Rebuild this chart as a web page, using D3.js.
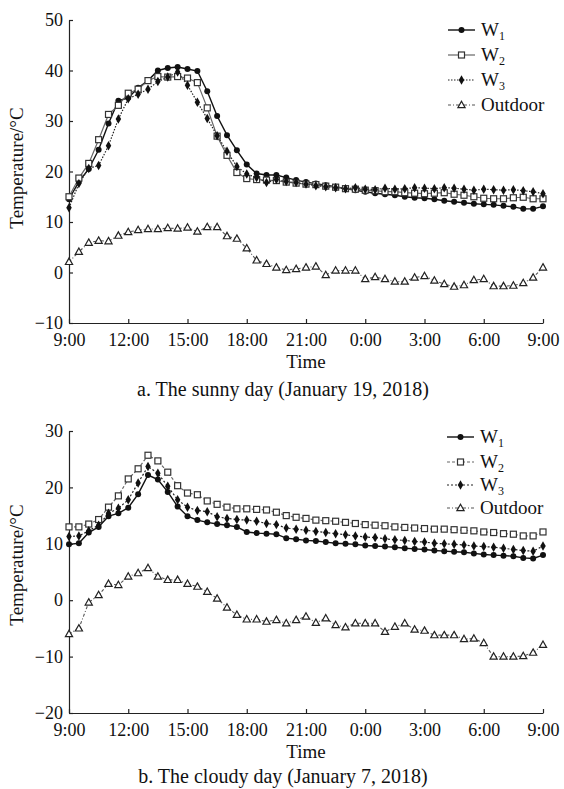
<html>
  <head>
    <style>
      body {
        margin: 0;
        background: #fff;
        font-family: "Liberation Serif", "Times New Roman", serif;
      }
      svg {
        display: block;
      }
      .axis path,
      .axis line {
        stroke: #222;
        stroke-width: 1.2;
      }
      .axis text {
        font-family: "Liberation Serif", serif;
        font-size: 18px;
        fill: #111;
      }
      .label {
        font-size: 19px;
        fill: #111;
        text-anchor: middle;
      }
      .caption {
        font-size: 20px;
        fill: #111;
        text-anchor: middle;
      }
      .legend text {
        font-size: 19px;
        fill: #111;
      }
    </style>
  </head>
  <body>
    <script src="https://d3js.org/d3.v7.min.js"></script>
    <script>
      // half-hour readings from 9:00 to 9:00 next day (49 points)
      const hours = d3.range(0, 24.5, 0.5);
      const xTicks = [0, 3, 6, 9, 12, 15, 18, 21, 24];
      const xTickLabels = ["9:00", "12:00", "15:00", "18:00", "21:00", "0:00", "3:00", "6:00", "9:00"];

      // a. sunny day
      const sunnyW1 = [14.5, 18.0, 20.5, 24.3, 29.5, 34.0, 34.6, 36.6, 38.0, 40.0, 40.5, 40.7, 40.3, 39.9, 35.9, 31.0, 27.2, 24.2, 21.4, 19.6, 19.3, 19.3, 18.8,
        18.3, 17.9, 17.6, 17.3, 17.0, 16.6, 16.3, 16.0, 15.7, 15.5, 15.3, 15.0, 14.8, 14.7, 14.5, 14.2, 14.0, 13.8, 13.6, 13.5, 13.4, 13.2, 13.0, 12.6, 12.6, 13.1];
      const sunnyW2 = [15.0, 18.7, 21.6, 26.3, 31.3, 33.1, 35.5, 36.3, 38.0, 38.8, 38.7, 38.8, 38.5, 37.6, 32.6, 27.0, 23.2, 19.8, 18.6, 18.4, 18.3, 18.2, 17.9,
        17.7, 17.5, 17.4, 17.1, 16.9, 16.6, 16.5, 16.3, 16.2, 16.0, 16.0, 15.8, 15.7, 15.6, 15.7, 15.8, 15.5, 15.3, 15.0, 14.7, 14.6, 14.6, 14.8, 14.9, 14.6, 14.6];
      const sunnyW3 = [12.8, 17.6, 20.6, 21.2, 25.1, 30.4, 34.4, 35.3, 36.3, 37.8, 38.7, 39.7, 37.1, 33.7, 30.5, 27.1, 24.0, 21.0, 19.5, 18.8, 17.8, 18.4, 18.0,
        17.8, 17.5, 17.2, 17.0, 16.8, 16.6, 16.8, 16.5, 16.4, 16.7, 16.5, 16.6, 16.8, 16.7, 16.6, 16.8, 16.7, 16.5, 16.3, 16.5, 16.4, 16.3, 16.4, 16.2, 16.0, 15.6];
      const sunnyOut = [2.1, 4.1, 5.9, 6.3, 6.2, 7.3, 8.0, 8.4, 8.6, 8.6, 8.8, 8.7, 8.9, 8.1, 9.0, 9.0, 7.2, 6.7, 4.8, 2.4, 1.7, 1.0, 0.5,
        0.7, 1.0, 1.2, -0.5, 0.4, 0.4, 0.4, -1.3, -0.9, -1.3, -1.8, -1.8, -1.0, -0.7, -1.6, -2.3, -2.8, -2.5, -1.5, -1.3, -2.7, -2.7, -2.6, -2.1, -1.0, 1.0];
      const sunnyYTicks = [-10, 0, 10, 20, 30, 40, 50];

      // b. cloudy day
      const cloudyW1 = [9.9, 10.1, 12.0, 13.0, 14.9, 15.4, 16.4, 18.8, 22.2, 21.4, 19.2, 16.6, 14.9, 14.2, 13.8, 13.5, 13.3, 13.0, 12.1, 11.9, 11.8, 11.7, 11.0,
        10.8, 10.6, 10.5, 10.3, 10.1, 10.0, 9.9, 9.7, 9.6, 9.5, 9.4, 9.2, 9.1, 9.0, 8.8, 8.7, 8.6, 8.5, 8.3, 8.1, 8.0, 7.9, 7.8, 7.5, 7.4, 8.0];
      const cloudyW2 = [13.0, 13.0, 13.5, 14.3, 16.5, 18.5, 21.5, 23.3, 25.7, 24.7, 22.7, 20.3, 19.0, 18.7, 17.6, 17.0, 16.5, 16.2, 16.2, 16.1, 16.0, 15.6, 15.0,
        14.7, 14.5, 14.2, 14.1, 14.0, 13.8, 13.6, 13.4, 13.3, 13.2, 13.0, 12.9, 12.8, 12.7, 12.6, 12.6, 12.5, 12.4, 12.3, 12.1, 12.0, 11.8, 11.7, 11.4, 11.4, 12.1];
      const cloudyW3 = [11.3, 11.4, 12.3, 13.3, 15.4, 16.3, 17.8, 20.8, 23.7, 22.5, 20.2, 17.8, 16.5, 15.9, 15.7, 14.8, 14.5, 14.3, 14.2, 14.0, 13.6, 13.4, 12.8,
        12.6, 12.4, 12.2, 12.0, 11.8, 11.6, 11.4, 11.2, 11.1, 10.9, 10.7, 10.6, 10.4, 10.3, 10.1, 10.0, 9.9, 9.8, 9.6, 9.5, 9.4, 9.2, 9.0, 8.8, 8.7, 9.6];
      const cloudyOut = [-6.0, -5.0, -0.4, 0.9, 2.9, 2.7, 4.2, 4.8, 5.7, 4.2, 3.6, 3.6, 2.9, 2.4, 1.5, 0.3, -1.3, -2.6, -3.4, -3.4, -3.8, -3.5, -4.1,
        -3.5, -2.9, -4.0, -3.2, -4.4, -4.8, -4.1, -4.1, -4.1, -5.6, -4.7, -4.1, -5.2, -5.4, -6.2, -6.2, -6.2, -6.9, -6.8, -7.6, -10.0, -10.0, -10.0, -9.9, -9.3, -7.9];
      const cloudyYTicks = [-20, -10, 0, 10, 20, 30];

      const seriesNames = ["W1", "W2", "W3", "Outdoor"];

      const svg = d3.select("body").append("svg").attr("width", 564).attr("height", 789);

      function drawMarker(g, kind, x, y) {
        if (kind === "circle") {
          g.append("circle").attr("cx", x).attr("cy", y).attr("r", 3).attr("fill", "#111");
        } else if (kind === "diamond") {
          g.append("path")
            .attr("d", d3.symbol(d3.symbolDiamond, 26)())
            .attr("transform", `translate(${x},${y})`)
            .attr("fill", "#111");
        } else if (kind === "square") {
          g.append("rect")
            .attr("x", x - 3).attr("y", y - 3).attr("width", 6).attr("height", 6)
            .attr("fill", "#fff").attr("stroke", "#333").attr("stroke-width", 1.2);
        } else {
          g.append("path")
            .attr("d", "M0,-3.8L3.6,2.6L-3.6,2.6Z")
            .attr("transform", `translate(${x},${y})`)
            .attr("fill", "#fff").attr("stroke", "#222").attr("stroke-width", 1.2);
        }
      }

      function drawChart(opt) {
        const x = d3.scaleLinear().domain([0, 24]).range([69, 543]);
        const y = d3.scaleLinear().domain(opt.yDomain).range([opt.bottom, opt.top]);

        svg.append("g")
          .attr("class", "axis")
          .attr("transform", `translate(0,${opt.bottom})`)
          .call(d3.axisBottom(x).tickValues(xTicks).tickSizeInner(-4).tickSizeOuter(0).tickPadding(10)
            .tickFormat((d, i) => xTickLabels[i]));

        svg.append("g")
          .attr("class", "axis")
          .attr("transform", "translate(69,0)")
          .call(d3.axisLeft(y).tickValues(opt.yTicks).tickSizeInner(-4).tickSizeOuter(0).tickPadding(6)
            .tickFormat((d) => (d < 0 ? "\u2212" + Math.abs(d) : d)));

        const line = d3.line().x((d, i) => x(hours[i])).y((d) => y(d));

        opt.series.forEach((s) => {
          svg.append("path")
            .datum(s.values)
            .attr("d", line)
            .attr("fill", "none")
            .attr("stroke", s.color)
            .attr("stroke-width", s.width)
            .attr("stroke-dasharray", s.dash);
        });
        opt.series.forEach((s) => {
          const g = svg.append("g");
          s.values.forEach((v, i) => drawMarker(g, s.marker, x(hours[i]), y(v)));
        });

        // legend
        const lg = svg.append("g").attr("class", "legend");
        opt.series.forEach((s, i) => {
          const ly = opt.legendY[i];
          lg.append("line")
            .attr("x1", opt.legendX).attr("x2", opt.legendX + 27)
            .attr("y1", ly).attr("y2", ly)
            .attr("stroke", s.color).attr("stroke-width", s.width)
            .attr("stroke-dasharray", s.dash);
          drawMarker(lg, s.marker, opt.legendX + 13.5, ly);
          const t = lg.append("text").attr("x", opt.legendX + 33).attr("y", ly + 6);
          if (s.name === "Outdoor") {
            t.text("Outdoor");
          } else {
            t.append("tspan").text("W");
            t.append("tspan").attr("dy", 4).attr("font-size", 12).text(s.name.slice(1));
          }
        });

        svg.append("text")
          .attr("class", "label")
          .attr("transform", `translate(23,${opt.yLabelY}) rotate(-90)`)
          .text("Temperature/°C");

        svg.append("text")
          .attr("class", "label")
          .attr("x", 306)
          .attr("y", opt.bottom + 45)
          .text("Time");

        svg.append("text")
          .attr("class", "caption")
          .attr("x", 283)
          .attr("y", opt.captionY)
          .text(opt.caption);
      }

      drawChart({
        yDomain: [-10, 50],
        yTicks: sunnyYTicks,
        top: 20,
        bottom: 323,
        yLabelY: 168,
        captionY: 396,
        caption: "a. The sunny day (January 19, 2018)",
        legendX: 448,
        legendY: [30, 55, 80, 105],
        series: [
          { name: seriesNames[0], values: sunnyW1, marker: "circle", color: "#111", width: 1.4, dash: null },
          { name: seriesNames[1], values: sunnyW2, marker: "square", color: "#666", width: 1.2, dash: null },
          { name: seriesNames[2], values: sunnyW3, marker: "diamond", color: "#222", width: 1.2, dash: "1.5,1.5" },
          { name: seriesNames[3], values: sunnyOut, marker: "triangle", color: "#555", width: 1.1, dash: "3,2,1,2" },
        ],
      });

      drawChart({
        yDomain: [-20, 30],
        yTicks: cloudyYTicks,
        top: 431,
        bottom: 713,
        yLabelY: 565,
        captionY: 783,
        caption: "b. The cloudy day (January 7, 2018)",
        legendX: 447,
        legendY: [437, 462, 485, 508],
        series: [
          { name: seriesNames[0], values: cloudyW1, marker: "circle", color: "#111", width: 1.4, dash: null },
          { name: seriesNames[1], values: cloudyW2, marker: "square", color: "#666", width: 1.2, dash: "3,2" },
          { name: seriesNames[2], values: cloudyW3, marker: "diamond", color: "#222", width: 1.2, dash: "2,2" },
          { name: seriesNames[3], values: cloudyOut, marker: "triangle", color: "#555", width: 1.1, dash: "3,2,1,2" },
        ],
      });
    </script>
  </body>
</html>
